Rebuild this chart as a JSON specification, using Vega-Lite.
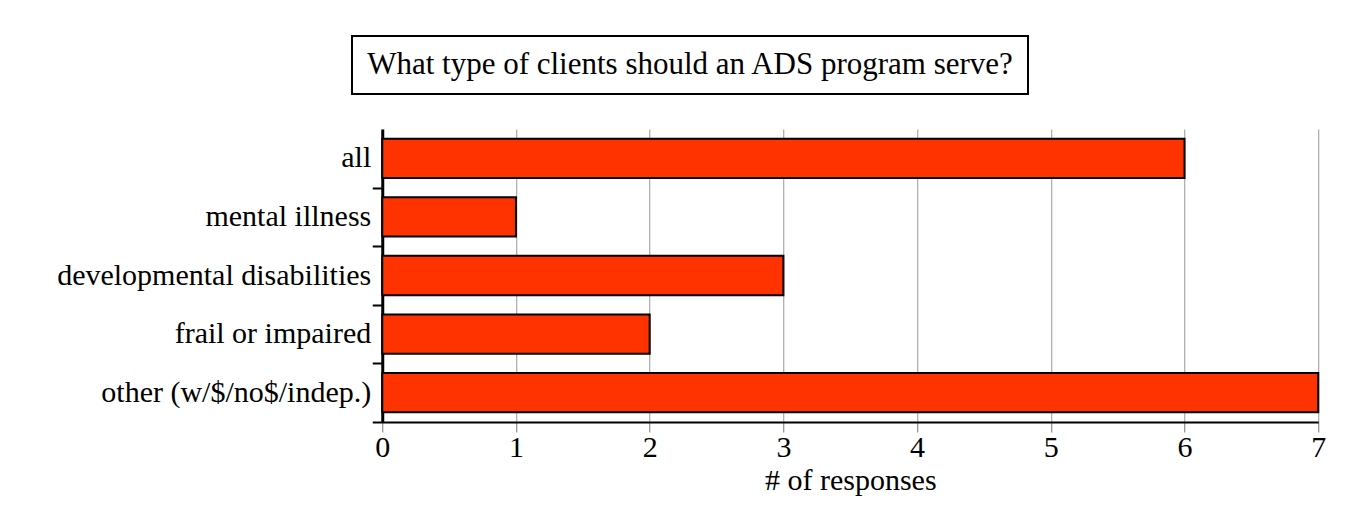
{
  "$schema": "https://vega.github.io/schema/vega-lite/v6.json",
  "padding": {"left": 55, "top": 35, "right": 5, "bottom": 5},
  "background": "white",
  "spacing": 34,
  "center": true,
  "config": {
    "font": "Liberation Serif",
    "axis": {"labelFont": "Liberation Serif", "titleFont": "Liberation Serif"}
  },
  "datasets": {
    "bars": [
      {"category": "all", "responses": 6},
      {"category": "mental illness", "responses": 1},
      {"category": "developmental disabilities", "responses": 3},
      {"category": "frail or impaired", "responses": 2},
      {"category": "other (w/$/no$/indep.)", "responses": 7}
    ],
    "title": [{"text": "What type of clients should an ADS program serve?"}]
  },
  "vconcat": [
    {
      "width": 676,
      "height": 58,
      "view": {"stroke": "black", "strokeWidth": 2},
      "data": {"name": "title"},
      "mark": {"type": "text", "font": "Liberation Serif", "fontSize": 31, "color": "black", "baseline": "middle", "align": "center"},
      "encoding": {"text": {"field": "text", "type": "nominal"}}
    },
    {
      "spacing": 0,
      "hconcat": [
        {
          "width": 316,
          "height": 293,
          "view": {"stroke": null},
          "data": {"name": "bars"},
          "mark": {"type": "text", "font": "Liberation Serif", "fontSize": 30, "color": "black", "align": "right", "baseline": "middle"},
          "encoding": {
            "y": {"field": "category", "type": "nominal", "sort": null, "scale": {"paddingInner": 0, "paddingOuter": 0}, "axis": null},
            "x": {"value": "width"},
            "text": {"field": "category", "type": "nominal"}
          }
        },
        {
          "width": 936,
          "height": 293,
          "view": {"stroke": null},
          "data": {"name": "bars"},
          "mark": {"type": "bar", "fill": "#ff3300", "stroke": "black", "strokeWidth": 2, "height": {"band": 0.67}},
          "encoding": {
            "y": {
              "field": "category", "type": "nominal", "sort": null,
              "scale": {"paddingInner": 0, "paddingOuter": 0},
              "axis": {
                "title": null, "labels": false,
                "tickBand": "extent", "tickSize": 10, "tickWidth": 2, "tickColor": "black",
                "tickOpacity": {"expr": "datum.extra ? 0 : 1"},
                "domainColor": "black", "domainWidth": 3, "grid": false
              }
            },
            "x": {
              "field": "responses", "type": "quantitative",
              "scale": {"domain": [0, 7], "nice": false},
              "axis": {
                "title": "# of responses", "titleFontSize": 30, "titleFontWeight": "normal", "titleColor": "black", "titlePadding": 3,
                "values": [0, 1, 2, 3, 4, 5, 6, 7], "format": "d", "labelFlush": false,
                "labelFontSize": 30, "labelColor": "black", "labelPadding": 0,
                "tickSize": 10, "tickColor": "#777", "tickWidth": 1,
                "domainColor": "black", "domainWidth": 2,
                "grid": true, "gridColor": "#999", "gridWidth": 1, "gridOpacity": 1
              }
            }
          }
        }
      ]
    }
  ]
}
